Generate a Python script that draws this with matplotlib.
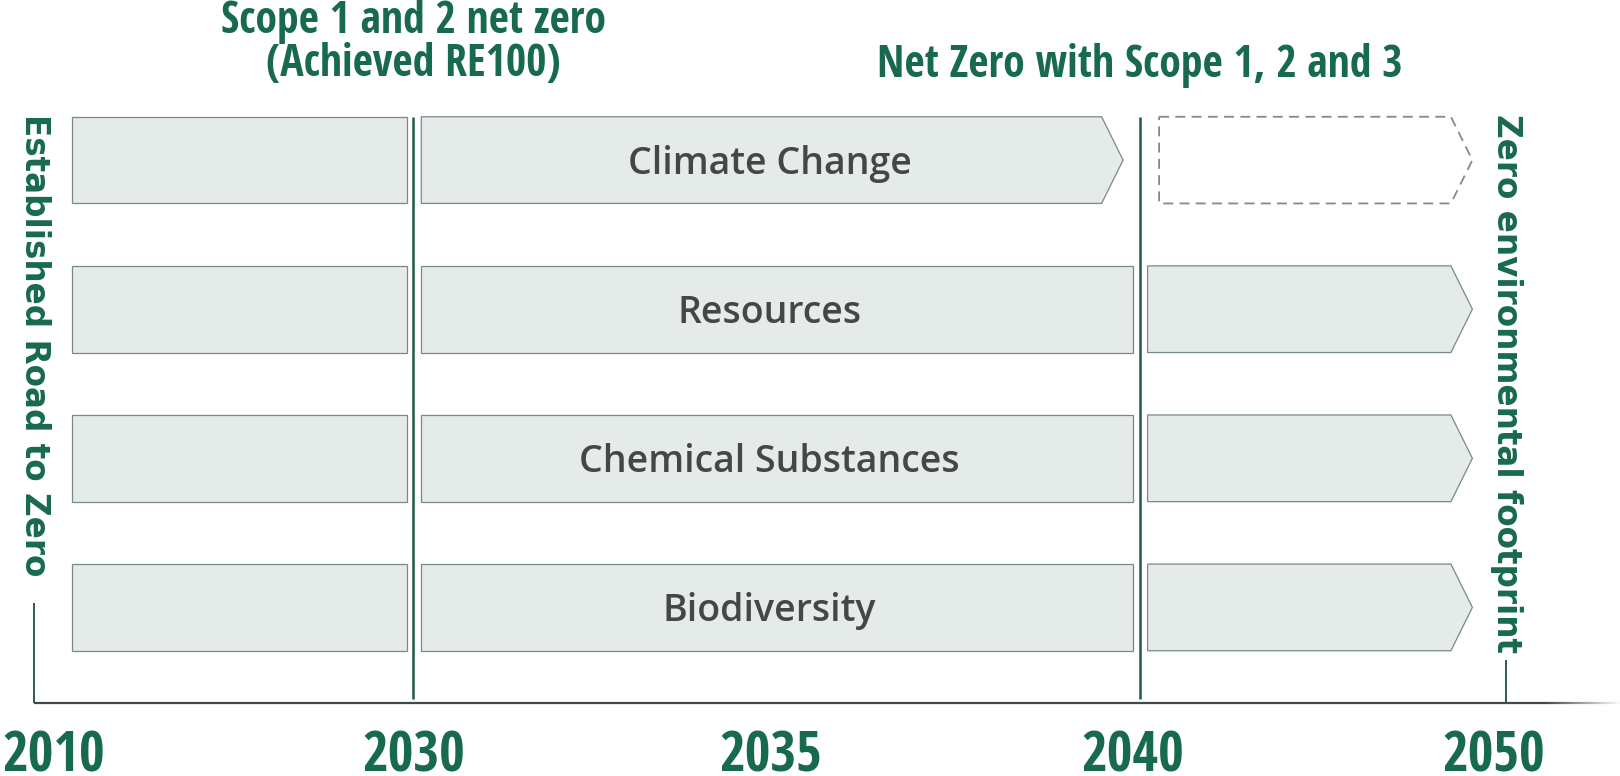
import numpy as np
import matplotlib.pyplot as plt
from matplotlib.patches import Polygon

# roadmap rows, top to bottom
rows = ['Climate Change', 'Resources', 'Chemical Substances', 'Biodiversity']
# phases every row goes through (start year, end year)
phases = [(2010, 2030), (2030, 2040), (2040, 2050)]
# year in which each row reaches its goal
goal_year = [2040, 2050, 2050, 2050]
# milestone lines and year labels
milestones = [2030, 2040]
label_years = [2010, 2030, 2035, 2040, 2050]
year_labels = ['2010', '2030', '2035', '2040', '2050']
notes_2030 = ['Scope 1 and 2 net zero', '(Achieved RE100)']
notes_2040 = ['Net Zero with Scope 1, 2 and 3']
side_notes = [(2010, 'Established Road to Zero'), (2050, 'Zero environmental footprint')]

GREEN = '#17694f'
FILL = '#e5ebe8'
EDGE = '#778b85'
GREY = '#464646'

# the time axis is not linear: 2030-2040 gets most of the room
anchor_years = [2000, 2010, 2030, 2040, 2050, 2060]
anchor_px = [-155.5, 34.1, 413.3, 1139.6, 1506.4, 1873.2]


def fwd(x):
    return np.interp(x, anchor_years, anchor_px)


def inv(p):
    return np.interp(p, anchor_px, anchor_years)


def shift(year, px):
    # move a year by some pixels along the axis
    return float(inv(fwd(year) + px))


fig = plt.figure(figsize=(16.2, 7.76), dpi=100)
ax = fig.add_axes([0, 0, 1, 1])
ax.set_xscale('function', functions=(fwd, inv))
ax.set_xlim(inv(0), inv(1620))
ax.set_ylim(4.1308, -1.0738)
ax.axis('off')

half = 0.2907   # half bar height in row units
tip = 21.5      # arrow depth in px

for i, name in enumerate(rows):
    y0, y1 = i - half, i + half
    for k, (a, b) in enumerate(phases):
        left = shift(a, 38 if a == 2010 else 8)
        dashed = a >= goal_year[i]
        if dashed:
            left = shift(a, 19.5)
        if b == goal_year[i] or dashed:
            # arrow head at the goal
            inset = 16.5 if b == 2040 else 34
            t = shift(b, -inset)
            body = shift(b, -inset - tip)
            pts = [(left, y0), (body, y0), (t, i), (body, y1), (left, y1)]
        elif b > goal_year[i]:
            continue
        else:
            right = shift(b, -6.5)
            pts = [(left, y0), (right, y0), (right, y1), (left, y1)]
        if dashed:
            ax.add_patch(Polygon(pts, closed=True, facecolor='white', edgecolor='#7f8c88',
                                 lw=1.3, linestyle=(0, (5.5, 3.5))))
        else:
            ax.add_patch(Polygon(pts, closed=True, facecolor=FILL, edgecolor=EDGE, lw=0.9))
    ax.text(shift(2035, -7), i + 0.09, name, ha='center', va='baseline', fontsize=27,
            color=GREY, family=['Open Sans', 'DejaVu Sans'], fontweight='semibold')

# milestone lines
axis_y = 3.638
ax.vlines(milestones, -half, 3.614, color='#1f5a48', lw=1.8)
ax.vlines([2010], 2.970, axis_y, color='#2a5e4e', lw=1.4)
ax.vlines([2050], 3.353, axis_y, color='#2a5e4e', lw=1.4)

# time axis, fading out at the right end
end_solid = shift(2050, 37)
ax.plot([2010, end_solid], [axis_y, axis_y], color='#3d4a46', lw=1.6, solid_capstyle='butt')
fade = np.linspace(fwd(end_solid), 1620, 25)
for j in range(len(fade) - 1):
    ax.plot([inv(fade[j]), inv(fade[j + 1])], [axis_y, axis_y], color='#3d4a46',
            lw=1.6, alpha=1 - j / 24, solid_capstyle='butt')

narrow = ['Open Sans Condensed', 'DejaVu Sans']
tr = ax.get_xaxis_transform()
label_nudge = [0, 0, -6, -7, -13]
for yr, lab, dx in zip(label_years, year_labels, label_nudge):
    if yr == 2010:
        ax.text(shift(yr, -31.5), 0.006, lab, transform=tr, ha='left', va='baseline',
                fontsize=40, fontweight='bold', color=GREEN, family=narrow)
    else:
        ax.text(shift(yr, dx), 0.006, lab, transform=tr, ha='center', va='baseline',
                fontsize=40, fontweight='bold', color=GREEN, family=narrow)

for line, yy in zip(notes_2030, [1 - 33 / 776, 1 - 76 / 776]):
    ax.text(2030, yy, line, transform=tr, ha='center', va='baseline', fontsize=31.5,
            fontweight='bold', color=GREEN, family=narrow)
ax.text(2040, 1 - 77 / 776, notes_2040[0], transform=tr, ha='center', va='baseline',
        fontsize=31.5, fontweight='bold', color=GREEN, family=narrow)

for yr, txt in side_notes:
    ax.text(yr, -half - 0.02, txt, rotation=-90, ha='center', va='top', fontsize=23.5,
            fontweight='bold', color=GREEN, family='DejaVu Sans')

fig.savefig('out.png', dpi=100)
